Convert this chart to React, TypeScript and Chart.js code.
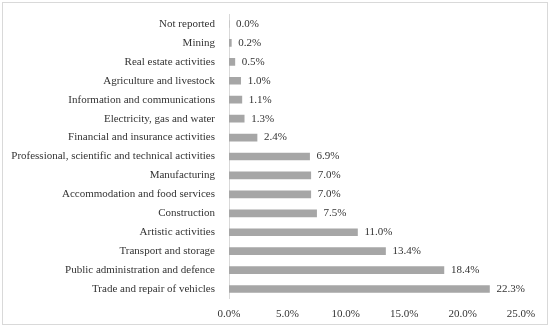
import React, { useEffect, useRef } from "react";
import { Chart, registerables } from "chart.js";

Chart.register(...registerables);

const categories = [
  "Not reported",
  "Mining",
  "Real estate activities",
  "Agriculture and livestock",
  "Information and communications",
  "Electricity, gas and water",
  "Financial and insurance activities",
  "Professional, scientific and technical activities",
  "Manufacturing",
  "Accommodation and food services",
  "Construction",
  "Artistic activities",
  "Transport and storage",
  "Public administration and defence",
  "Trade and repair of vehicles",
];

const values = [0.0, 0.2, 0.5, 1.0, 1.1, 1.3, 2.4, 6.9, 7.0, 7.0, 7.5, 11.0, 13.4, 18.4, 22.3];

const xTicks = [0, 5, 10, 15, 20, 25];

const FONT = "'Liberation Serif', 'Times New Roman', serif";
const TEXT = "#333333";

const valueLabels = {
  id: "valueLabels",
  afterDatasetsDraw(chart: any) {
    const ctx = chart.ctx;
    const meta = chart.getDatasetMeta(0);
    ctx.save();
    ctx.font = `11px ${FONT}`;
    ctx.fillStyle = TEXT;
    ctx.textAlign = "left";
    ctx.textBaseline = "middle";
    meta.data.forEach((el: any, i: number) => {
      ctx.fillText(values[i].toFixed(1) + "%", el.x + 7, el.y);
    });
    ctx.restore();
  },
};

export default function App() {
  const ref = useRef<HTMLCanvasElement | null>(null);

  useEffect(() => {
    if (!ref.current) return;
    const chart = new Chart(ref.current, {
      type: "bar",
      data: {
        labels: categories,
        datasets: [
          {
            data: values,
            backgroundColor: "#a6a6a6",
            barThickness: 7,
          },
        ],
      },
      options: {
        indexAxis: "y",
        animation: false,
        responsive: false,
        maintainAspectRatio: false,
        layout: { padding: { top: 14.5, right: 29, left: 0, bottom: 0 } },
        plugins: {
          legend: { display: false },
          tooltip: { enabled: false },
        },
        scales: {
          x: {
            min: 0,
            max: 25,
            afterBuildTicks: (scale: any) => {
              scale.ticks = xTicks.map((v) => ({ value: v }));
            },
            afterFit: (scale: any) => {
              scale.height = 30.5;
            },
            grid: { display: false, drawTicks: false },
            border: { display: false },
            ticks: {
              padding: 9,
              color: TEXT,
              font: { family: FONT, size: 11 },
              callback: (v: any) => Number(v).toFixed(1) + "%",
            },
          },
          y: {
            afterFit: (scale: any) => {
              scale.width = 229;
              scale.paddingTop = 0;
              scale.paddingBottom = 0;
            },
            grid: { display: false, drawTicks: false },
            border: { display: true, color: "#d9d9d9", width: 1 },
            ticks: {
              padding: 14,
              color: TEXT,
              autoSkip: false,
              font: { family: FONT, size: 11 },
            },
          },
        },
      },
      plugins: [valueLabels],
    });
    return () => chart.destroy();
  }, []);

  return (
    <div style={{ position: "fixed", left: 0, top: 0, width: 550, height: 329, background: "#fff" }}>
      <canvas ref={ref} width={550} height={329} style={{ position: "absolute", left: 0, top: 0 }} />
      <div
        style={{
          position: "absolute",
          left: 2,
          top: 2,
          width: 546,
          height: 323,
          boxSizing: "border-box",
          border: "1px solid #d9d9d9",
          pointerEvents: "none",
        }}
      />
    </div>
  );
}
